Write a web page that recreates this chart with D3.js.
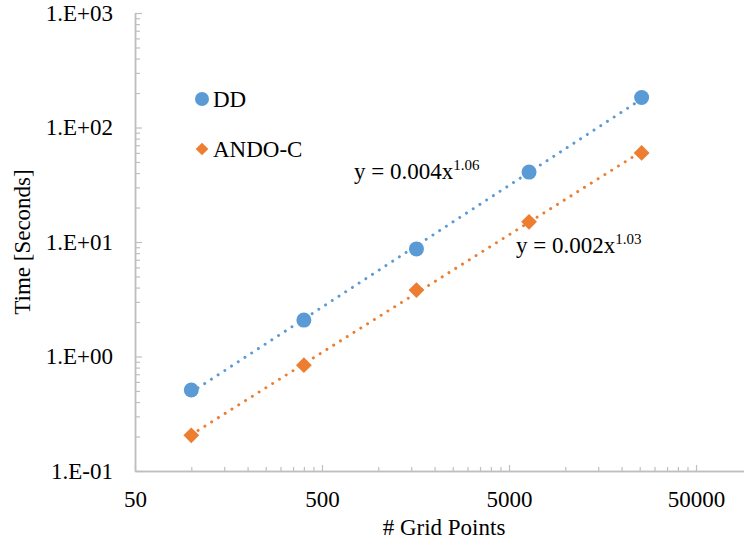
<!DOCTYPE html>
<html>
<head>
<meta charset="utf-8">
<script src="https://cdn.jsdelivr.net/npm/d3@7"></script>
<style>
  html, body { margin: 0; padding: 0; background: #fff; }
  svg { display: block; }
  svg text { font-family: "Liberation Serif", "Times New Roman", serif !important; fill: #000; }
</style>
</head>
<body>
<svg id="chart" width="744" height="543" font-family="Liberation Serif, serif"></svg>
<script>
// ---- data ----
const gridPoints = [100, 400, 1600, 6400, 25600];
const ddTime = [0.51, 2.08, 8.7, 40.8, 183];
const andoTime = [0.205, 0.84, 3.8, 15.0, 60];
const seriesNames = ["DD", "ANDO-C"];
const xTickValues = [50, 500, 5000, 50000];
const yTickValues = [0.1, 1, 10, 100, 1000];
const yTickLabels = ["1.E-01", "1.E+00", "1.E+01", "1.E+02", "1.E+03"];
const trendLabels = [["y = 0.004x", "1.06"], ["y = 0.002x", "1.03"]];

const colors = ["#5B9BD5", "#ED7D31"];
const axisColor = "#BFBFBF";
const FONT = "Liberation Serif, serif";

const svg = d3.select("#chart");
const W = 744, H = 543;

const x = d3.scaleLog().domain([50, 500000]).range([135, 135 + 4 * 187]);
const y = d3.scaleLog().domain([0.1, 1000]).range([471, 13]);

// minor ticks
const xMinor = [];
[50, 500, 5000, 50000].forEach(b => { for (let k = 2; k <= 9; k++) { const v = b * k; if (x(v) < W) xMinor.push(v); } });
const yMinor = [];
[0.1, 1, 10, 100].forEach(b => { for (let k = 2; k <= 9; k++) yMinor.push(b * k); });

// X axis
const gx = svg.append("g").attr("transform", `translate(0,${y(0.1)})`);
gx.call(d3.axisBottom(x).tickValues(xMinor).tickSize(-4).tickSizeOuter(0).tickFormat(""));
gx.append("g").call(d3.axisBottom(x).tickValues(xTickValues).tickSize(-6).tickSizeOuter(0).tickPadding(20).tickFormat(d3.format("d")));
gx.selectAll("path").attr("stroke", axisColor).attr("stroke-width", 1.5);
gx.selectAll("line").attr("stroke", axisColor).attr("stroke-width", 1.2);
gx.selectAll("text").style("font-size", "23px").style("font-family", FONT).attr("fill", "#000");

// Y axis
const gy = svg.append("g").attr("transform", `translate(${x(50)},0)`);
gy.call(d3.axisLeft(y).tickValues(yMinor).tickSize(-5).tickSizeOuter(0).tickFormat(""));
gy.append("g").call(d3.axisLeft(y).tickValues(yTickValues).tickSize(-7).tickSizeOuter(0).tickPadding(22)
  .tickFormat((d, i) => yTickLabels[i]));
gy.selectAll("path").attr("stroke", axisColor).attr("stroke-width", 1.5);
gy.selectAll("line").attr("stroke", axisColor).attr("stroke-width", 1.2);
gy.selectAll("text").style("font-size", "23px").style("font-family", FONT).attr("fill", "#000");

// axis titles
svg.append("text").attr("x", 444).attr("y", 535).attr("text-anchor", "middle")
  .style("font-size", "23px").style("font-family", FONT).text("# Grid Points");
svg.append("text").attr("transform", `translate(30,${(13 + 471) / 2}) rotate(-90)`).attr("text-anchor", "middle")
  .style("font-size", "23px").style("font-family", FONT).text("Time [Seconds]");

// power-law fit (least squares in log-log space)
function powerFit(xs, ys) {
  const lx = xs.map(Math.log), ly = ys.map(Math.log);
  const mx = d3.mean(lx), my = d3.mean(ly);
  const b = d3.sum(lx.map((v, i) => (v - mx) * (ly[i] - my))) / d3.sum(lx.map(v => (v - mx) ** 2));
  const a = Math.exp(my - b * mx);
  return v => a * Math.pow(v, b);
}

const series = [ddTime, andoTime];
const line = d3.line().x(d => x(d[0])).y(d => y(d[1]));
series.forEach((ys, si) => {
  const f = powerFit(gridPoints, ys);
  const ends = [d3.min(gridPoints), d3.max(gridPoints)].map(v => [v, f(v)]);
  svg.append("path").attr("d", line(ends)).attr("fill", "none").attr("stroke", colors[si])
    .attr("stroke-width", 3).attr("stroke-linecap", "round").attr("stroke-dasharray", "0.01 8");
});

// markers
svg.append("g").selectAll("circle").data(gridPoints).join("circle")
  .attr("cx", d => x(d)).attr("cy", (d, i) => y(ddTime[i])).attr("r", 7.5).attr("fill", colors[0]);
const diamond = d3.symbol().type(d3.symbolSquare).size(125);
svg.append("g").selectAll("path").data(gridPoints).join("path")
  .attr("d", diamond).attr("fill", colors[1])
  .attr("transform", (d, i) => `translate(${x(d)},${y(andoTime[i])}) rotate(45)`);

// legend
const lg = svg.append("g");
lg.append("circle").attr("cx", 202).attr("cy", 99).attr("r", 7).attr("fill", colors[0]);
lg.append("text").attr("x", 213).attr("y", 107).style("font-size", "23px").style("font-family", FONT).text(seriesNames[0]);
lg.append("path").attr("d", d3.symbol().type(d3.symbolSquare).size(80)).attr("fill", colors[1])
  .attr("transform", "translate(202,149) rotate(45)");
lg.append("text").attr("x", 213).attr("y", 157).style("font-size", "23px").style("font-family", FONT).text(seriesNames[1]);

// trendline equations
const eqPos = [[354, 179], [516, 253]];
trendLabels.forEach((t, i) => {
  const tx = svg.append("text").attr("x", eqPos[i][0]).attr("y", eqPos[i][1])
    .style("font-size", "23px").style("font-family", FONT);
  tx.append("tspan").text(t[0]);
  tx.append("tspan").attr("dy", -9).style("font-size", "15px").text(t[1]);
});
</script>
</body>
</html>
